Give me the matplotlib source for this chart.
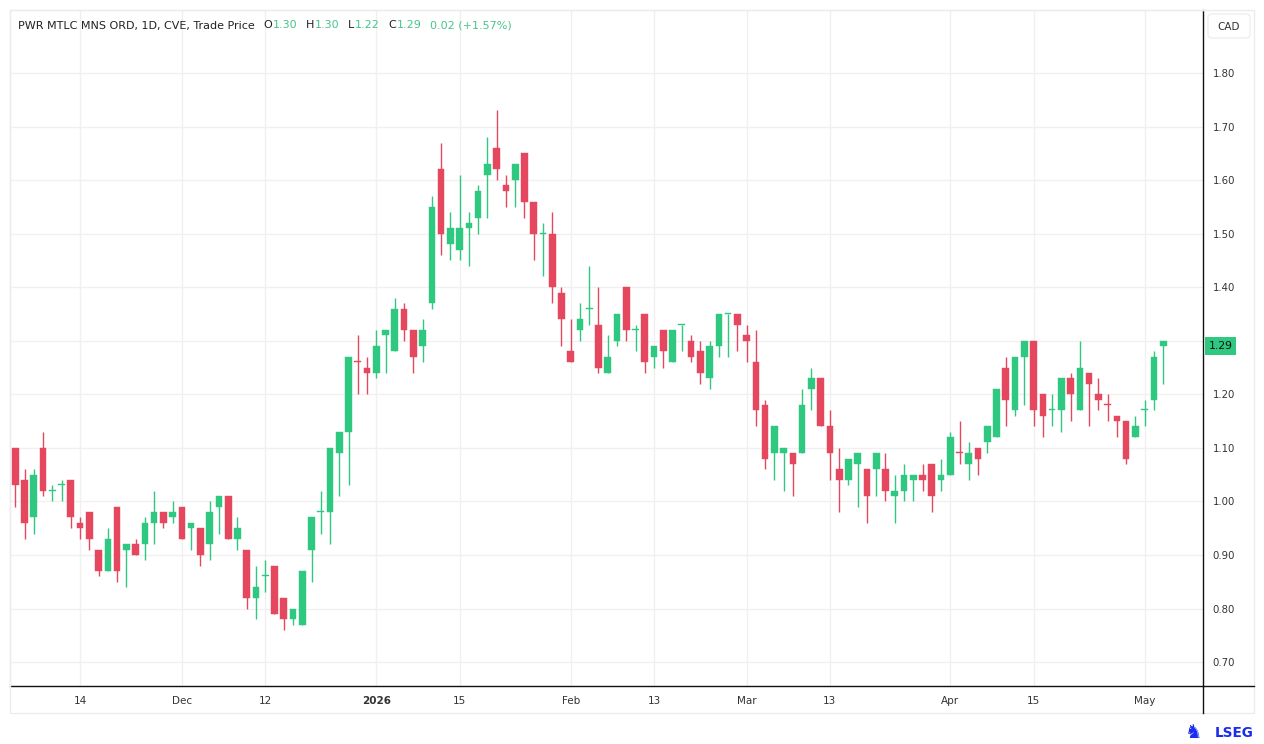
import numpy as np
import pandas as pd
import matplotlib
matplotlib.use("Agg")
import matplotlib.pyplot as plt
from matplotlib.patches import FancyBboxPatch, Rectangle
from matplotlib.lines import Line2D

TITLE = "PWR MTLC MNS ORD, 1D, CVE, Trade Price"
LAST_OHLC = [("O", "1.30"), ("H", "1.30"), ("L", "1.22"), ("C", "1.29")]
LAST_CHANGE = "0.02 (+1.57%)"
CURRENCY = "CAD"

# trading days on the TSX Venture
START, END = "2025-11-05", "2026-05-05"
HOLIDAYS = ["2025-12-25", "2025-12-26", "2026-01-01", "2026-02-16", "2026-04-03"]

OPEN = [1.10, 1.04, 0.97, 1.10, 1.02, 1.03, 1.04, 0.96, 0.98, 0.91,
        0.87, 0.99, 0.91, 0.92, 0.92, 0.96, 0.98, 0.97, 0.99, 0.95,
        0.95, 0.92, 0.99, 1.01, 0.93, 0.91, 0.82, 0.86, 0.88, 0.82,
        0.78, 0.77, 0.91, 0.98, 0.98, 1.09, 1.13, 1.26, 1.25, 1.24,
        1.31, 1.28, 1.36, 1.32, 1.29, 1.37, 1.62, 1.48, 1.47, 1.51,
        1.53, 1.61, 1.66, 1.59, 1.60, 1.65, 1.56, 1.50, 1.50, 1.39,
        1.28, 1.32, 1.36, 1.33, 1.24, 1.30, 1.40, 1.32, 1.35, 1.27,
        1.32, 1.26, 1.33, 1.30, 1.28, 1.23, 1.29, 1.35, 1.35, 1.31,
        1.26, 1.18, 1.09, 1.09, 1.09, 1.09, 1.21, 1.23, 1.14, 1.06,
        1.04, 1.07, 1.06, 1.06, 1.06, 1.01, 1.02, 1.04, 1.05, 1.07,
        1.04, 1.05, 1.09, 1.07, 1.10, 1.11, 1.12, 1.25, 1.17, 1.27,
        1.30, 1.20, 1.17, 1.17, 1.23, 1.17, 1.24, 1.20, 1.18, 1.16,
        1.15, 1.12, 1.17, 1.19, 1.30]
HIGH = [1.10, 1.06, 1.06, 1.13, 1.03, 1.04, 1.04, 0.97, 0.98, 0.91,
        0.95, 0.99, 0.92, 0.93, 0.97, 1.02, 0.98, 1.00, 0.99, 0.96,
        0.95, 1.00, 1.01, 1.01, 0.97, 0.91, 0.88, 0.89, 0.88, 0.82,
        0.80, 0.87, 0.97, 1.02, 1.10, 1.13, 1.27, 1.31, 1.27, 1.32,
        1.32, 1.38, 1.37, 1.32, 1.34, 1.57, 1.67, 1.54, 1.61, 1.54,
        1.59, 1.68, 1.73, 1.61, 1.63, 1.65, 1.56, 1.52, 1.54, 1.40,
        1.34, 1.37, 1.44, 1.40, 1.31, 1.35, 1.40, 1.33, 1.35, 1.29,
        1.32, 1.32, 1.33, 1.31, 1.30, 1.30, 1.35, 1.35, 1.35, 1.33,
        1.32, 1.19, 1.14, 1.10, 1.09, 1.21, 1.25, 1.23, 1.17, 1.10,
        1.08, 1.09, 1.06, 1.09, 1.09, 1.05, 1.07, 1.05, 1.07, 1.07,
        1.08, 1.13, 1.15, 1.11, 1.10, 1.14, 1.21, 1.27, 1.27, 1.30,
        1.30, 1.20, 1.20, 1.23, 1.24, 1.30, 1.24, 1.23, 1.20, 1.16,
        1.15, 1.16, 1.19, 1.28, 1.30]
LOW = [0.99, 0.93, 0.94, 1.01, 1.00, 1.00, 0.95, 0.93, 0.91, 0.86,
       0.87, 0.85, 0.84, 0.90, 0.89, 0.92, 0.95, 0.96, 0.93, 0.91,
       0.88, 0.89, 0.94, 0.93, 0.91, 0.80, 0.78, 0.83, 0.79, 0.76,
       0.77, 0.77, 0.85, 0.94, 0.92, 1.01, 1.03, 1.20, 1.20, 1.23,
       1.24, 1.28, 1.30, 1.24, 1.26, 1.36, 1.46, 1.45, 1.45, 1.44,
       1.50, 1.53, 1.60, 1.55, 1.55, 1.53, 1.45, 1.42, 1.37, 1.29,
       1.26, 1.30, 1.33, 1.24, 1.24, 1.29, 1.30, 1.28, 1.24, 1.25,
       1.25, 1.26, 1.28, 1.26, 1.22, 1.21, 1.27, 1.27, 1.28, 1.26,
       1.14, 1.06, 1.04, 1.02, 1.01, 1.09, 1.17, 1.14, 1.04, 0.98,
       1.03, 0.99, 0.96, 1.01, 1.00, 0.96, 1.00, 1.00, 1.02, 0.98,
       1.02, 1.05, 1.07, 1.04, 1.05, 1.09, 1.12, 1.14, 1.16, 1.18,
       1.14, 1.12, 1.14, 1.13, 1.15, 1.17, 1.14, 1.17, 1.15, 1.12,
       1.07, 1.12, 1.14, 1.17, 1.22]
CLOSE = [1.03, 0.96, 1.05, 1.02, 1.02, 1.03, 0.97, 0.95, 0.93, 0.87,
         0.93, 0.87, 0.92, 0.90, 0.96, 0.98, 0.96, 0.98, 0.93, 0.96,
         0.90, 0.98, 1.01, 0.93, 0.95, 0.82, 0.84, 0.86, 0.79, 0.78,
         0.80, 0.87, 0.97, 0.98, 1.10, 1.13, 1.27, 1.26, 1.24, 1.29,
         1.32, 1.36, 1.32, 1.27, 1.32, 1.55, 1.50, 1.51, 1.51, 1.52,
         1.58, 1.63, 1.62, 1.58, 1.63, 1.56, 1.50, 1.50, 1.40, 1.34,
         1.26, 1.34, 1.36, 1.25, 1.27, 1.35, 1.32, 1.32, 1.26, 1.29,
         1.28, 1.32, 1.33, 1.27, 1.24, 1.29, 1.35, 1.35, 1.33, 1.30,
         1.17, 1.08, 1.14, 1.10, 1.07, 1.18, 1.23, 1.14, 1.09, 1.04,
         1.08, 1.09, 1.01, 1.09, 1.02, 1.02, 1.05, 1.05, 1.04, 1.01,
         1.05, 1.12, 1.09, 1.09, 1.08, 1.14, 1.21, 1.19, 1.27, 1.30,
         1.17, 1.16, 1.17, 1.23, 1.20, 1.25, 1.22, 1.19, 1.18, 1.15,
         1.08, 1.14, 1.17, 1.27, 1.29]

TICK_DATES = ["2025-11-14", "2025-12-01", "2025-12-12", "2026-01-02",
              "2026-01-15", "2026-02-02", "2026-02-13", "2026-03-02",
              "2026-03-13", "2026-04-01", "2026-04-15", "2026-05-01"]
TICK_LABELS = ["14", "Dec", "12", "2026", "15", "Feb", "13", "Mar",
               "13", "Apr", "15", "May"]
PRICE_TICKS = [0.70, 0.80, 0.90, 1.00, 1.10, 1.20, 1.30, 1.40, 1.50, 1.60,
               1.70, 1.80]

UP = "#2ec880"
DOWN = "#e5475f"
HEAD_GREEN = "#45c48a"
GRID = "#f0f0f0"
PANEL = "#ececec"

W, H = 1264, 744
plt.rcParams["font.family"] = ["DejaVu Sans"]


def fx(px):
    return px / W


def fy(py):
    return 1 - py / H


dates = pd.bdate_range(START, END)
dates = dates[~dates.isin(pd.to_datetime(HOLIDAYS))]
df = pd.DataFrame({"open": OPEN, "high": HIGH, "low": LOW, "close": CLOSE},
                  index=dates)
x = np.arange(len(df))

# cents, to compare prices exactly
o = np.round(df["open"].values * 100).astype(int)
c = np.round(df["close"].values * 100).astype(int)
prev = np.concatenate([[o[0]], c[:-1]])
# bar is up when it closes above its open or above the previous close
up = (c > o) | (c > prev) | ((c == o) & (c == prev))
colors = np.where(up, UP, DOWN)

fig = plt.figure(figsize=(W / 100, H / 100), dpi=100)
ax = fig.add_axes([fx(10), fy(686), fx(1203) - fx(10), fy(10) - fy(686)])

ax.vlines(x, df["low"], df["high"], colors=colors, linewidth=1.0, zorder=2)
body_lo = np.minimum(df["open"], df["close"])
body_h = np.maximum((df["close"] - df["open"]).abs(), 0.002)
ax.bar(x, body_h, bottom=body_lo, width=0.72, color=colors,
       edgecolor=colors, linewidth=0.3, zorder=3)

ax.set_xlim(-0.57, 128.3)
ax.set_ylim(0.6553, 1.9176)

tick_pos = [dates.get_loc(pd.Timestamp(d)) for d in TICK_DATES]
ax.set_xticks(tick_pos)
ax.set_xticklabels(TICK_LABELS, fontsize=7.5, color="#333333")
for lbl in ax.get_xticklabels():
    if lbl.get_text().isdigit() and len(lbl.get_text()) == 4:
        lbl.set_fontweight("bold")
ax.tick_params(axis="x", length=0, pad=7)

ax.yaxis.tick_right()
ax.set_yticks(PRICE_TICKS)
ax.set_yticklabels(["{:.2f}".format(v) for v in PRICE_TICKS], fontsize=7.3,
                   color="#333333")
ax.tick_params(axis="y", length=0, pad=7)

ax.grid(True, color=GRID, linewidth=1.0, zorder=0)
ax.set_axisbelow(True)
for side in ["left", "top"]:
    ax.spines[side].set_color(PANEL)
    ax.spines[side].set_linewidth(1.0)
for side in ["right", "bottom"]:
    ax.spines[side].set_color("#111111")
    ax.spines[side].set_linewidth(1.0)

# outer panel and axis lines running through the scale areas
fig.patches.append(Rectangle((fx(10), fy(713)), fx(1254) - fx(10),
                             fy(10) - fy(713), transform=fig.transFigure,
                             fill=False, edgecolor=PANEL, linewidth=1.0))
fig.lines.append(Line2D([fx(1203), fx(1254)], [fy(686), fy(686)],
                        transform=fig.transFigure, color="#111111", lw=1.0))
fig.lines.append(Line2D([fx(1203), fx(1203)], [fy(713), fy(686)],
                        transform=fig.transFigure, color="#111111", lw=1.0))

# currency button
fig.patches.append(FancyBboxPatch((fx(1208), fy(38)), fx(1250) - fx(1208),
                                  fy(14) - fy(38),
                                  boxstyle="round,pad=0,rounding_size=0.004",
                                  transform=fig.transFigure, facecolor="white",
                                  edgecolor="#eeeeee", linewidth=1.0))
fig.text(fx(1229), fy(26.5), CURRENCY, fontsize=7.5, color="#333333",
         ha="center", va="center")

# last price tag, drawn over the scale label beneath it
last = df["close"].iloc[-1]
ax.annotate("{:.2f}".format(last), xy=(1.0, last),
            xycoords=("axes fraction", "data"), xytext=(4, 0),
            textcoords="offset points", ha="left", va="center", fontsize=7.8,
            color="#111111", annotation_clip=False, zorder=10,
            bbox=dict(boxstyle="square,pad=0.35", facecolor=UP,
                      edgecolor="none"))

# header legend
FS = 8.0
t = fig.text(fx(18), fy(30.5), TITLE, fontsize=FS, color="#222222",
             va="bottom")
for key, val in LAST_OHLC:
    t = ax.annotate(key, xy=(1, 0), xycoords=t, xytext=(6.3, 0),
                    textcoords="offset points", fontsize=FS,
                    color="#222222", va="bottom")
    t = ax.annotate(val, xy=(1, 0), xycoords=t, xytext=(0.3, 0),
                    textcoords="offset points", fontsize=FS,
                    color=HEAD_GREEN, va="bottom")
ax.annotate(LAST_CHANGE, xy=(1, 0), xycoords=t, xytext=(6.3, 0),
            textcoords="offset points", fontsize=FS, color=HEAD_GREEN,
            va="bottom")

# logo
fig.text(fx(1194), fy(733), "\u265e", fontsize=14, color="#1a2cf0",
         ha="center", va="center")
fig.text(fx(1254), fy(733), "LSEG", fontsize=9.8, fontweight="bold",
         color="#1a2cf0", ha="right", va="center")

fig.savefig("out.png", dpi=100, facecolor="white")
